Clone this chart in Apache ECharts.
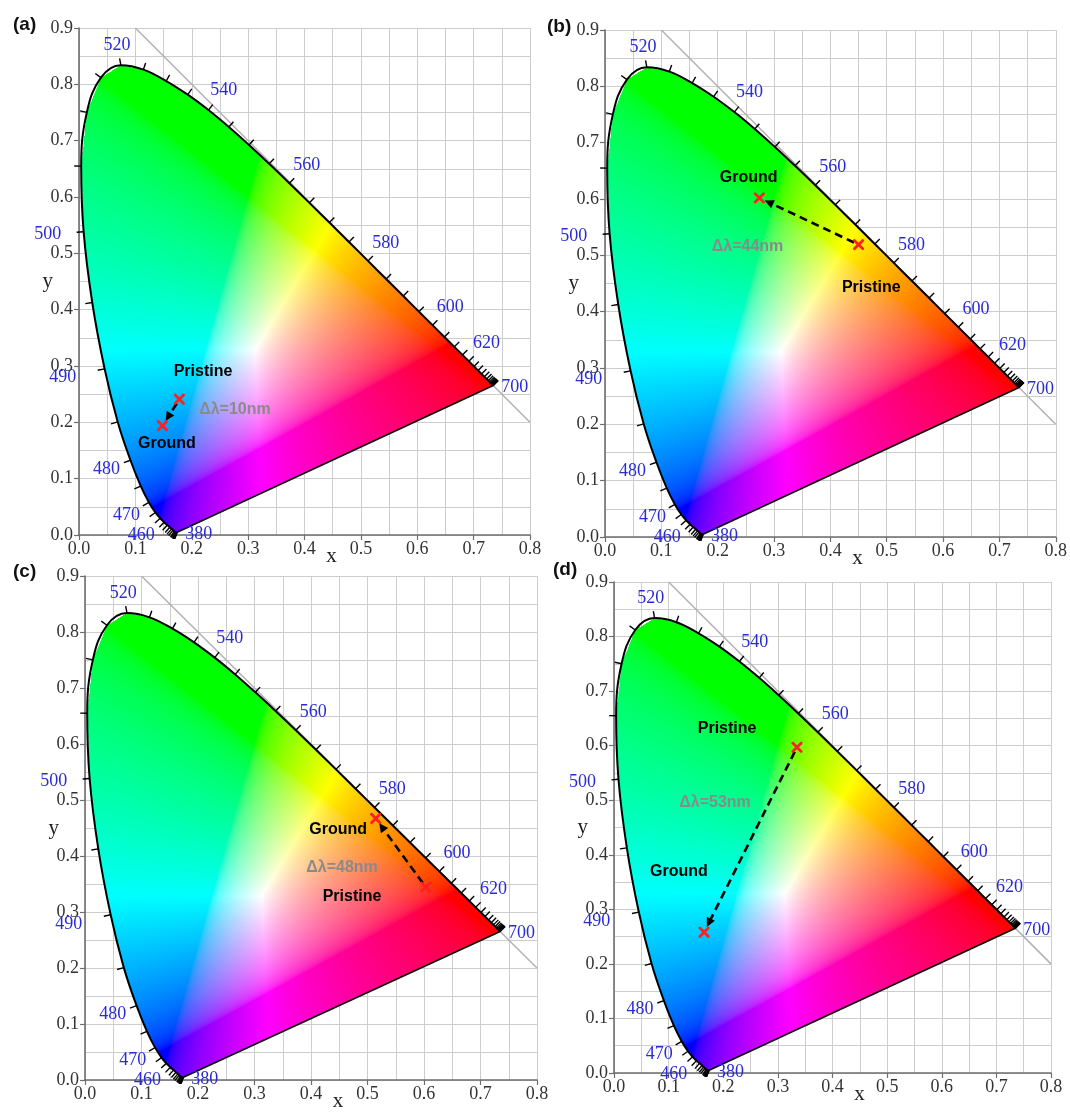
<!DOCTYPE html>
<html><head><meta charset="utf-8">
<script src="https://cdn.jsdelivr.net/npm/echarts@6/dist/echarts.min.js"></script>
<style>html,body{margin:0;padding:0;background:#fff}#chart{width:1070px;height:1113px}</style>
</head><body><div id="chart"></div>
<script>
// ---------- DATA ----------
// CIE 1931 spectral locus, 5 nm steps
const wavelengths = [380,385,390,395,400,405,410,415,420,425,430,435,440,445,450,455,460,465,470,475,480,485,490,495,500,505,510,515,520,525,530,535,540,545,550,555,560,565,570,575,580,585,590,595,600,605,610,615,620,625,630,635,640,645,650,655,660,665,670,675,680,685,690,695,700];
const locusX = [0.1741,0.1740,0.1738,0.1736,0.1733,0.1730,0.1726,0.1721,0.1714,0.1703,0.1689,0.1669,0.1644,0.1611,0.1566,0.1510,0.1440,0.1355,0.1241,0.1096,0.0913,0.0687,0.0454,0.0235,0.0082,0.0039,0.0139,0.0389,0.0743,0.1142,0.1547,0.1929,0.2296,0.2658,0.3016,0.3373,0.3731,0.4087,0.4441,0.4788,0.5125,0.5448,0.5752,0.6029,0.6270,0.6482,0.6658,0.6801,0.6915,0.7006,0.7079,0.7140,0.7190,0.7230,0.7260,0.7283,0.7300,0.7311,0.7320,0.7327,0.7334,0.7340,0.7344,0.7346,0.7347];
const locusY = [0.0050,0.0050,0.0049,0.0049,0.0048,0.0048,0.0048,0.0048,0.0051,0.0058,0.0069,0.0086,0.0109,0.0138,0.0177,0.0227,0.0297,0.0399,0.0578,0.0868,0.1327,0.2007,0.2950,0.4127,0.5384,0.6548,0.7502,0.8120,0.8338,0.8262,0.8059,0.7816,0.7543,0.7243,0.6923,0.6589,0.6245,0.5896,0.5547,0.5202,0.4866,0.4544,0.4242,0.3965,0.3725,0.3514,0.3340,0.3197,0.3083,0.2993,0.2920,0.2859,0.2809,0.2770,0.2740,0.2717,0.2700,0.2689,0.2680,0.2673,0.2666,0.2660,0.2656,0.2654,0.2653];
const labelledWavelengths = [380,460,470,480,490,500,520,540,560,580,600,620,700];
const diagonalX = [0.1, 0.8];
const diagonalY = [0.9, 0.2];
const whitePoint = [0.3333, 0.3333];

const panelNames = ['(a)','(b)','(c)','(d)'];
const pristineX = [0.178, 0.450, 0.603, 0.335];
const pristineY = [0.241, 0.519, 0.3445, 0.597];
const groundX   = [0.148, 0.274, 0.5145, 0.165];
const groundY   = [0.194, 0.602, 0.467, 0.258];
const shiftLabels = ['Δλ=10nm','Δλ=44nm','Δλ=48nm','Δλ=53nm'];
const pointNames = ['Pristine','Ground'];

// ---------- LAYOUT / STYLE ----------
const gridRects = [
  {left:79,  top:28,  width:451, height:507},
  {left:605, top:30,  width:452, height:507},
  {left:85,  top:576, width:452, height:509},
  {left:614, top:582, width:437, height:491}
];
const panelLabelPos = [{left:13,top:15},{left:547,top:17},{left:13,top:562},{left:553,top:560}];
// annotation anchors (data space) : pristine, ground, shift
const annotationAnchors = [
  [[0.220,0.2895],[0.156,0.162],[0.2766,0.222]],
  [[0.4726,0.442],[0.255,0.638],[0.253,0.515]],
  [[0.4726,0.327],[0.448,0.447],[0.455,0.380]],
  [[0.207,0.632],[0.119,0.370],[0.185,0.496]]
];
const labelExtraPad = {490:18, 500:12};
const SERIF = '"Liberation Serif","Times New Roman",serif';
const SANS = '"Liberation Sans",Arial,sans-serif';
const WL_COLOR = '#2a2ad6';

// ---------- gamut colour image ----------
function gam(c){ return c<=0.0031308 ? 12.92*c : 1.055*Math.pow(c,1/2.4)-0.055; }
function xyToRgb(x,y){
  const X=x/y, Y=1, Z=(1-x-y)/y;
  let r=3.2406*X-1.5372*Y-0.4986*Z, g=-0.9689*X+1.8758*Y+0.0415*Z, b=0.0557*X-0.2040*Y+1.0570*Z;
  r=Math.max(r,0); g=Math.max(g,0); b=Math.max(b,0);
  const m=Math.max(r,g,b)||1;
  return [gam(r/m)*255, gam(g/m)*255, gam(b/m)*255];
}
const RES = 1000;
const gamutCanvas = (function(){
  const cw=Math.round(0.8*RES), ch=Math.round(0.9*RES);
  const cv=document.createElement('canvas'); cv.width=cw; cv.height=ch;
  const ctx=cv.getContext('2d'); const img=ctx.createImageData(cw,ch); const d=img.data;
  const px=locusX.concat([locusX[0]]), py=locusY.concat([locusY[0]]);
  for(let j=0;j<ch;j++){
    const y=0.9-(j+0.5)/RES; const xs=[];
    for(let e=0;e<px.length-1;e++){
      const y1=py[e],y2=py[e+1];
      if((y1<=y&&y<y2)||(y2<=y&&y<y1)){ xs.push(px[e]+(y-y1)/(y2-y1)*(px[e+1]-px[e])); }
    }
    xs.sort((a,b)=>a-b);
    for(let k=0;k+1<xs.length;k+=2){
      const i0=Math.max(0,Math.ceil(xs[k]*RES-0.5)), i1=Math.min(cw-1,Math.floor(xs[k+1]*RES-0.5));
      for(let i=i0;i<=i1;i++){
        const x=(i+0.5)/RES; const c=xyToRgb(x,y); const o=(j*cw+i)*4;
        d[o]=c[0]; d[o+1]=c[1]; d[o+2]=c[2]; d[o+3]=255;
      }
    }
  }
  ctx.putImageData(img,0,0);
  return cv;
})();

// ---------- render helpers ----------
function gamutRender(params, api){
  const a=api.coord([0,0.9]), b=api.coord([0.8,0]);
  return {type:'image', style:{image:gamutCanvas, x:a[0], y:a[1], width:b[0]-a[0], height:b[1]-a[1]}};
}
function tickRender(params, api){
  const i=params.dataIndex, n=wavelengths.length;
  const P=k=>api.coord([locusX[k],locusY[k]]);
  const p=P(i);
  const dist=(q,r)=>Math.hypot(q[0]-r[0],q[1]-r[1]);
  let a=i,b=i,pa=p,pb=p;
  while(a>0 && dist(pa,p)<3){a--; pa=P(a);}
  while(b<n-1 && dist(pb,p)<3){b++; pb=P(b);}
  let tx=pb[0]-pa[0], ty=pb[1]-pa[1]; const tl=Math.hypot(tx,ty)||1; tx/=tl; ty/=tl;
  let nx=ty, ny=-tx;
  const w=api.coord(whitePoint);
  if((p[0]-w[0])*nx+(p[1]-w[1])*ny<0){nx=-nx;ny=-ny;}
  const L=7;
  const children=[{type:'line', shape:{x1:p[0],y1:p[1],x2:p[0]+nx*L,y2:p[1]+ny*L}, style:{stroke:'#000',lineWidth:1.4}}];
  const wl=wavelengths[i];
  if(labelledWavelengths.indexOf(wl)>=0){
    let cx,cy,align='center';
    if(i===0||i===n-1){ cx=p[0]+8; cy=p[1]+2; align='left'; }
    else {
      const dd=10+Math.abs(nx)*13.5+Math.abs(ny)*8+(labelExtraPad[wl]||0);
      cx=p[0]+nx*dd; cy=p[1]+ny*dd;
    }
    children.push({type:'text', x:cx, y:cy, style:{text:String(wl), fill:WL_COLOR, font:'18px '+SERIF, align:align, textAlign:align, verticalAlign:'middle', textVerticalAlign:'middle'}});
  }
  return {type:'group', children};
}
function arrowRender(params, api){
  const p=api.coord([api.value(0),api.value(1)]), g=api.coord([api.value(2),api.value(3)]);
  const dx=g[0]-p[0], dy=g[1]-p[1], L=Math.hypot(dx,dy), ux=dx/L, uy=dy/L;
  const s=[p[0]+ux*5,p[1]+uy*5], tip=[g[0]-ux*6,g[1]-uy*6];
  const hl=9, hw=4.5; const base=[tip[0]-ux*hl, tip[1]-uy*hl];
  return {type:'group', children:[
    {type:'line', shape:{x1:s[0],y1:s[1],x2:base[0]+ux*1,y2:base[1]+uy*1}, style:{stroke:'#000',lineWidth:2.6,lineDash:[8,5]}},
    {type:'polygon', shape:{points:[tip,[base[0]+uy*hw,base[1]-ux*hw],[base[0]-uy*hw,base[1]+ux*hw]]}, style:{fill:'#000'}}
  ]};
}
function crossRender(params, api){
  const c=api.coord([api.value(0),api.value(1)]), r=4.2;
  const st={stroke:'#ff2020',lineWidth:2.8,lineCap:'round'};
  return {type:'group', children:[
    {type:'line', shape:{x1:c[0]-r,y1:c[1]-r,x2:c[0]+r,y2:c[1]+r}, style:st},
    {type:'line', shape:{x1:c[0]-r,y1:c[1]+r,x2:c[0]+r,y2:c[1]-r}, style:st}
  ]};
}
function makeTextRender(k){
  return function(params, api){
    const c=api.coord([api.value(0),api.value(1)]);
    const idx=params.dataIndex;
    const txt= idx<2 ? pointNames[idx] : shiftLabels[k];
    const col= idx<2 ? '#000' : '#8a8a8a';
    return {type:'text', x:c[0], y:c[1], style:{text:txt, fill:col, font:'bold 16px '+SANS, align:'center', textAlign:'center', verticalAlign:'middle', textVerticalAlign:'middle'}};
  };
}

// ---------- option ----------
const grids=[], xAxes=[], yAxes=[], series=[], titles=[];
const gridLineStyle={color:'#cdcdcd', width:1};
for(let k=0;k<4;k++){
  grids.push(Object.assign({containLabel:false}, gridRects[k]));
  xAxes.push({gridIndex:k, type:'value', min:0, max:0.8, interval:0.1,
    name:'x', nameLocation:'middle', nameGap:11, nameMoveOverlap:false,
    nameTextStyle:{fontFamily:SERIF, fontSize:21, color:'#222', padding:[0,0,0,54]},
    axisLine:{show:true, lineStyle:{color:'#6e6e6e', width:1.6}},
    axisTick:{show:true, length:5, lineStyle:{color:'#6e6e6e', width:1.2}},
    axisLabel:{fontFamily:SERIF, fontSize:18, color:'#333', margin:5, formatter:v=>v.toFixed(1)},
    splitLine:{show:true, lineStyle:gridLineStyle},
    minorTick:{show:false, splitNumber:2},
    minorSplitLine:{show:true, lineStyle:gridLineStyle}
  });
  yAxes.push({gridIndex:k, type:'value', min:0, max:0.9, interval:0.1,
    name:'y', nameLocation:'middle', nameGap:26, nameRotate:0, nameMoveOverlap:false,
    nameTextStyle:{fontFamily:SERIF, fontSize:21, color:'#222'},
    axisLine:{show:true, lineStyle:{color:'#6e6e6e', width:1.6}},
    axisTick:{show:true, length:5, lineStyle:{color:'#6e6e6e', width:1.2}},
    axisLabel:{fontFamily:SERIF, fontSize:18, color:'#333', margin:6, formatter:v=>v.toFixed(1)},
    splitLine:{show:true, lineStyle:gridLineStyle},
    minorTick:{show:false, splitNumber:2},
    minorSplitLine:{show:true, lineStyle:gridLineStyle}
  });
  titles.push({text:panelNames[k], left:panelLabelPos[k].left, top:panelLabelPos[k].top, padding:0,
    textStyle:{fontFamily:SANS, fontWeight:'bold', fontSize:19, color:'#111'}});
  const ax={xAxisIndex:k, yAxisIndex:k, silent:true};
  const locusData=locusX.map((x,i)=>[x,locusY[i]]);
  const purpleLine=[[locusX[locusX.length-1],locusY[locusY.length-1]],[locusX[0],locusY[0]]];
  series.push(Object.assign({type:'custom', z:1, data:[[0,0]], renderItem:gamutRender, clip:false}, ax));
  series.push(Object.assign({type:'line', z:3, data:locusData, symbol:'none', showSymbol:false, smooth:0.4, lineStyle:{color:'#000', width:2}, clip:false}, ax));
  series.push(Object.assign({type:'line', z:3, data:purpleLine, symbol:'none', showSymbol:false, lineStyle:{color:'#000', width:1.7}, clip:false}, ax));
  series.push(Object.assign({type:'line', z:2, data:[[diagonalX[0],diagonalY[0]],[diagonalX[1],diagonalY[1]]], symbol:'none', lineStyle:{color:'#b2b2b2', width:1.5}}, ax));
  series.push(Object.assign({type:'custom', z:4, data:locusData, renderItem:tickRender, clip:false}, ax));
  series.push(Object.assign({type:'custom', z:5, data:[[pristineX[k],pristineY[k],groundX[k],groundY[k]]], renderItem:arrowRender}, ax));
  series.push(Object.assign({type:'custom', z:6, data:[[pristineX[k],pristineY[k]],[groundX[k],groundY[k]]], renderItem:crossRender}, ax));
  series.push(Object.assign({type:'custom', z:7, data:annotationAnchors[k], renderItem:makeTextRender(k)}, ax));
}
const chart=echarts.init(document.getElementById('chart'), null, {renderer:'canvas'});
chart.setOption({animation:false, backgroundColor:'#fff', title:titles, grid:grids, xAxis:xAxes, yAxis:yAxes, series});
</script>
</body></html>
